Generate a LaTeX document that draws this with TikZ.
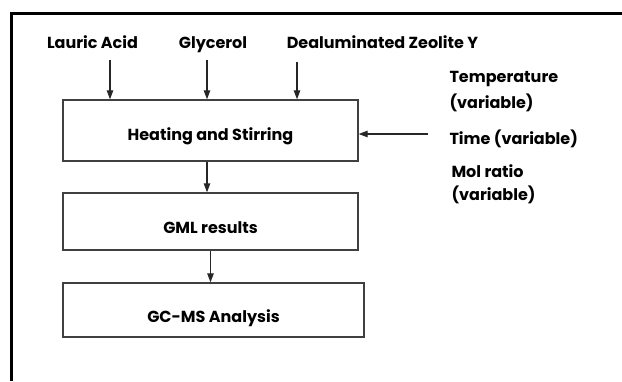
\documentclass[tikz,border=0pt]{standalone}
\usepackage{fontspec}
\setmainfont{Poppins}
\usetikzlibrary{positioning}
\usetikzlibrary{arrows.meta}

\begin{document}
\begin{tikzpicture}[x=1pt, y=-1pt,
    font=\bfseries\fontsize{16}{24}\selectfont,
    procbox/.style={draw=black!75, line width=1.4pt, rectangle, inner xsep=0pt, inner ysep=0pt},
    flow/.style={draw=black!85, line width=1.3pt, -{Triangle[length=9pt, width=6.5pt]}}]
    \useasboundingbox (0,0) rectangle (622,381);
    % outer frame (only top and left edge visible)
    \draw[line width=3pt] (11,381) -- (11,13) -- (622,13);

    % reactants
    \node[anchor=base] (lauric) at (92.5,48) {Lauric Acid};
    \node[anchor=base] (glycerol) at (213,48) {Glycerol};
    \node[anchor=base] (zeolite) at (382.5,48) {Dealuminated Zeolite Y};
    \coordinate (lauricin) at (110,60);
    \coordinate (glycerolin) at (207,60);
    \coordinate (zeolitein) at (297,62);

    % process steps
    \node[procbox, minimum width=295pt, text height=40pt, text depth=21pt] (heating) at (210.5,130.5) {Heating and Stirring};
    \node[procbox, minimum width=295pt, text height=40pt, text depth=17pt] (gml) at (210.5,221.5) {GML results};
    \node[procbox, minimum width=301pt, text height=39pt, text depth=15pt] (gcms) at (213.5,310) {GC-MS Analysis};

    % reaction variables
    \node[anchor=base west] (temp) at (446,82) {Temperature};
    \node[anchor=base west] (tempvar) at (446,108) {(variable)};
    \node[anchor=base west] (time) at (446,144) {Time (variable)};
    \node[anchor=base west] (molratio) at (448,177) {Mol ratio};
    \node[anchor=base west] (molvar) at (448,200) {(variable)};
    \coordinate (timein) at (428,134);

    \draw[flow] (lauricin) -- (heating.north -| lauricin);
    \draw[flow] (glycerolin) -- (heating.north -| glycerolin);
    \draw[flow] (zeolitein) -- (heating.north -| zeolitein);
    \draw[flow] (timein) -- (timein -| heating.east);
    \draw[flow] (heating.south -| glycerolin) -- (gml.north -| glycerolin);
    \draw[flow] (gml.south) -- (gml.south |- gcms.north);
\end{tikzpicture}
\end{document}
